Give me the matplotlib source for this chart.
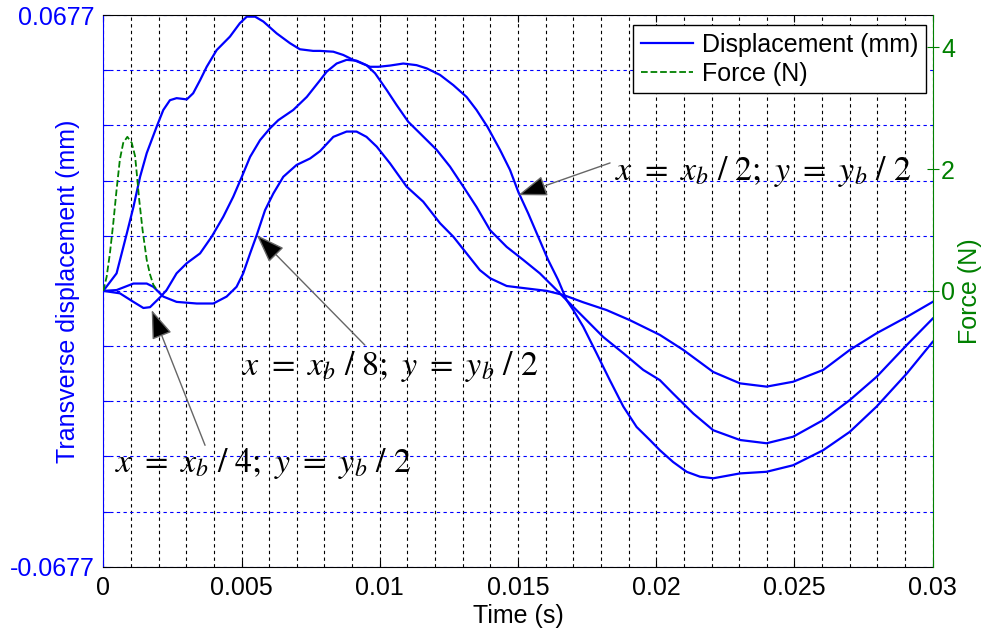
import numpy as np
import matplotlib
matplotlib.use('Agg')
import matplotlib.pyplot as plt

plt.rcParams['font.family'] = 'Liberation Sans'
plt.rcParams['mathtext.fontset'] = 'stix'

# === Data (time in ms, displacement in mm, force in N) ===
t_xb2 = [0, 0.48, 0.85, 1.09, 1.33, 1.57, 1.93, 2.17, 2.41, 2.65, 3.02, 3.25, 3.50, 3.74, 4.10,
         4.58, 4.94, 5.19, 5.49, 5.79, 6.27, 6.75, 7.11, 7.59, 7.84, 8.32, 8.68, 9.04, 9.40, 9.65,
         9.95, 10.37, 10.85, 11.33, 11.70, 12.18, 12.66, 13.14, 13.50, 13.90, 14.35, 14.71, 15.01,
         15.37, 15.73, 16.09, 16.45, 16.76, 17.00, 17.36, 17.84, 18.32, 18.81, 19.29, 19.77, 20.13,
         20.61, 21.10, 21.58, 22.06, 23.03, 23.99, 24.95, 26.04, 27.00, 27.97, 29.06, 30.0]
d_xb2 = [0, 0.0043, 0.0141, 0.0206, 0.0280, 0.0338, 0.0403, 0.0444, 0.0468, 0.0473, 0.0470, 0.0485,
         0.0517, 0.0550, 0.0591, 0.0624, 0.0657, 0.0673, 0.0673, 0.0661, 0.0632, 0.0608, 0.0593,
         0.0589, 0.0589, 0.0587, 0.0579, 0.0567, 0.0557, 0.0550, 0.0550, 0.0553, 0.0558, 0.0554,
         0.0546, 0.0530, 0.0505, 0.0476, 0.0444, 0.0402, 0.0346, 0.0297, 0.0243, 0.0190, 0.0133,
         0.0076, 0.0027, -0.0023, -0.0047, -0.0088, -0.0153, -0.0219, -0.0284, -0.0334, -0.0366,
         -0.0391, -0.0420, -0.0444, -0.0456, -0.0460, -0.0448, -0.0444, -0.0428, -0.0391, -0.0346,
         -0.0284, -0.0203, -0.0125]

t_xb4 = [0, 0.60, 1.09, 1.45, 1.69, 2.05, 2.29, 2.65, 3.02, 3.50, 3.92, 4.34, 4.70, 5.01, 5.31,
         5.67, 6.03, 6.33, 6.87, 7.36, 7.84, 8.08, 8.44, 8.80, 9.16, 9.52, 9.83, 10.25, 10.61, 11.03,
         11.45, 12.06, 12.54, 13.02, 13.50, 13.99, 14.59, 15.19, 15.79, 16.28, 16.76, 17.48, 18.08,
         18.81, 19.53, 20.13, 20.61, 21.34, 22.06, 23.03, 23.99, 24.95, 26.04, 27.00, 27.97, 29.06,
         30.0]
d_xb4 = [0, -0.0006, -0.0027, -0.0042, -0.0040, -0.0016, 0.0002, 0.0043, 0.0068, 0.0092, 0.0133,
         0.0182, 0.0231, 0.0280, 0.0329, 0.0370, 0.0399, 0.0419, 0.0444, 0.0476, 0.0517, 0.0538,
         0.0558, 0.0567, 0.0565, 0.0554, 0.0534, 0.0493, 0.0456, 0.0415, 0.0387, 0.0346, 0.0305,
         0.0256, 0.0206, 0.0149, 0.0108, 0.0076, 0.0043, 0.0010, -0.0023, -0.0072, -0.0113, -0.0153,
         -0.0194, -0.0219, -0.0252, -0.0301, -0.0342, -0.0366, -0.0374, -0.0358, -0.0317, -0.0268,
         -0.0211, -0.0133, -0.0068]

t_xb8 = [0, 0.48, 1.09, 1.57, 1.81, 2.17, 2.65, 3.38, 3.98, 4.46, 4.82, 5.06, 5.31, 5.55, 5.85,
         6.15, 6.51, 6.99, 7.48, 7.84, 8.32, 8.80, 9.16, 9.52, 9.89, 10.37, 10.97, 11.57, 12.18,
         12.66, 13.14, 13.62, 13.99, 14.59, 15.31, 16.04, 16.64, 17.36, 18.20, 19.05, 19.77, 20.13,
         20.98, 22.06, 23.03, 23.99, 24.95, 26.04, 27.00, 27.97, 29.06, 30.0]
d_xb8 = [0, 0.0002, 0.0018, 0.0018, 0.0010, -0.0014, -0.0027, -0.0031, -0.0031, -0.0014, 0.0010,
         0.0043, 0.0092, 0.0137, 0.0198, 0.0239, 0.0280, 0.0309, 0.0325, 0.0343, 0.0378, 0.0391,
         0.0391, 0.0378, 0.0354, 0.0313, 0.0256, 0.0219, 0.0166, 0.0133, 0.0092, 0.0051, 0.0031,
         0.0012, 0.0006, 0.0000, -0.0010, -0.0028, -0.0047, -0.0072, -0.0096, -0.0108, -0.0145,
         -0.0199, -0.0227, -0.0235, -0.0223, -0.0194, -0.0145, -0.0104, -0.0064, -0.0027]

t_force = [0, 0.12, 0.24, 0.36, 0.48, 0.60, 0.72, 0.87, 1.03, 1.15, 1.21, 1.30, 1.42, 1.57, 1.69,
           1.81, 1.93]
force = [0, 0.23, 0.62, 1.11, 1.66, 2.16, 2.43, 2.53, 2.43, 2.21, 1.93, 1.49, 1.00, 0.51, 0.27,
         0.10, 0.02]

xtick_vals = [0, 0.005, 0.01, 0.015, 0.02, 0.025, 0.03]
xtick_labels = ['0', '0.005', '0.01', '0.015', '0.02', '0.025', '0.03']
d_lim = 0.0677
f_lim = 4.53

# point labels: text, text position, arrow tail, arrow tip (ms, mm)
labels = [r'$x\ =\ x_b\ /\ 2;\ y\ =\ y_b\ /\ 2$', r'$x\ =\ x_b\ /\ 8;\ y\ =\ y_b\ /\ 2$',
          r'$x\ =\ x_b\ /\ 4;\ y\ =\ y_b\ /\ 2$']
label_pos = [(18.5, 0.0273), (5.0, -0.0207), (0.42, -0.0445)]
arrow_tail = [(18.33, 0.0314), (9.46, -0.0133), (3.68, -0.0379)]
arrow_tip = [(15.01, 0.0235), (5.55, 0.0137), (1.75, -0.0047)]

blue = '#0000FF'
green = '#008000'
fs = 18

# === Plot ===
fig = plt.figure(figsize=(9.82, 6.32), dpi=100)
ax = fig.add_axes([0.1052, 0.1033, 0.8446, 0.8729])

ms = 1e-3
ax.plot(np.array(t_xb2) * ms, d_xb2, color=blue, lw=1.6, label='Displacement (mm)')
ax.plot(np.array(t_xb4) * ms, d_xb4, color=blue, lw=1.6)
ax.plot(np.array(t_xb8) * ms, d_xb8, color=blue, lw=1.6)

ax.set_xlim(0, 0.03)
ax.set_ylim(-d_lim, d_lim)
ax.set_xticks(xtick_vals)
ax.set_xticklabels(xtick_labels)
ax.set_xticks(np.arange(0, 0.0305, 0.001), minor=True)
yt = np.linspace(-d_lim, d_lim, 11)
ax.set_yticks(yt)
ax.set_yticklabels(['-0.0677'] + [''] * 9 + ['0.0677'])

ax.tick_params(axis='x', which='major', direction='in', top=True, length=5, labelsize=fs, pad=7)
ax.tick_params(axis='x', which='minor', length=0)
ax.tick_params(axis='y', direction='in', right=True, length=5, colors=blue, labelsize=fs, pad=6)
ax.grid(True, axis='x', which='both', color='k', ls=(0, (3, 3)), lw=0.8)
ax.grid(True, axis='y', which='major', color=blue, ls=(0, (3, 3)), lw=0.8)
ax.spines['left'].set_color(blue)
ax.spines['right'].set_visible(False)

ax.set_xlabel('Time (s)', fontsize=fs)
ax.xaxis.set_label_coords(0.5, -0.068)
ax.set_ylabel('Transverse displacement (mm)', color=blue, fontsize=fs)
ax.yaxis.set_label_coords(-0.028, 0.5)

for txt, pos, tail, tip in zip(labels, label_pos, arrow_tail, arrow_tip):
    ax.annotate('', xy=(tip[0] * ms, tip[1]), xytext=(tail[0] * ms, tail[1]),
                arrowprops=dict(arrowstyle='-|>,head_length=1.0,head_width=0.36',
                                mutation_scale=18, fc='k', ec='0.4', lw=1,
                                shrinkA=0, shrinkB=0))
    ax.text(pos[0] * ms, pos[1], txt, fontsize=24.5, ha='left', va='baseline')

# force on the right axis
ax2 = ax.twinx()
ax2.plot(np.array(t_force) * ms, force, color=green, ls='--', lw=1.3, label='Force (N)')
ax2.set_ylim(-f_lim, f_lim)
ax2.set_yticks([0, 2, 4])
ax2.tick_params(axis='y', direction='inout', length=8, colors=green, labelsize=fs, pad=2)
for s in ['left', 'top', 'bottom']:
    ax2.spines[s].set_visible(False)
ax2.spines['right'].set_color(green)
ax2.set_ylabel('Force (N)', color=green, fontsize=fs)
ax2.yaxis.set_label_coords(1.031, 0.5)

h1, l1 = ax.get_legend_handles_labels()
h2, l2 = ax2.get_legend_handles_labels()
leg = ax2.legend(h1 + h2, l1 + l2, loc='upper right', bbox_to_anchor=(0.9919, 0.9819),
                 borderaxespad=0, fontsize=fs, fancybox=False, framealpha=1, edgecolor='k',
                 borderpad=0.3, labelspacing=0.2, handlelength=2.1, handletextpad=0.35)
leg.get_frame().set_linewidth(1.0)

fig.savefig('out.png', dpi=100)
